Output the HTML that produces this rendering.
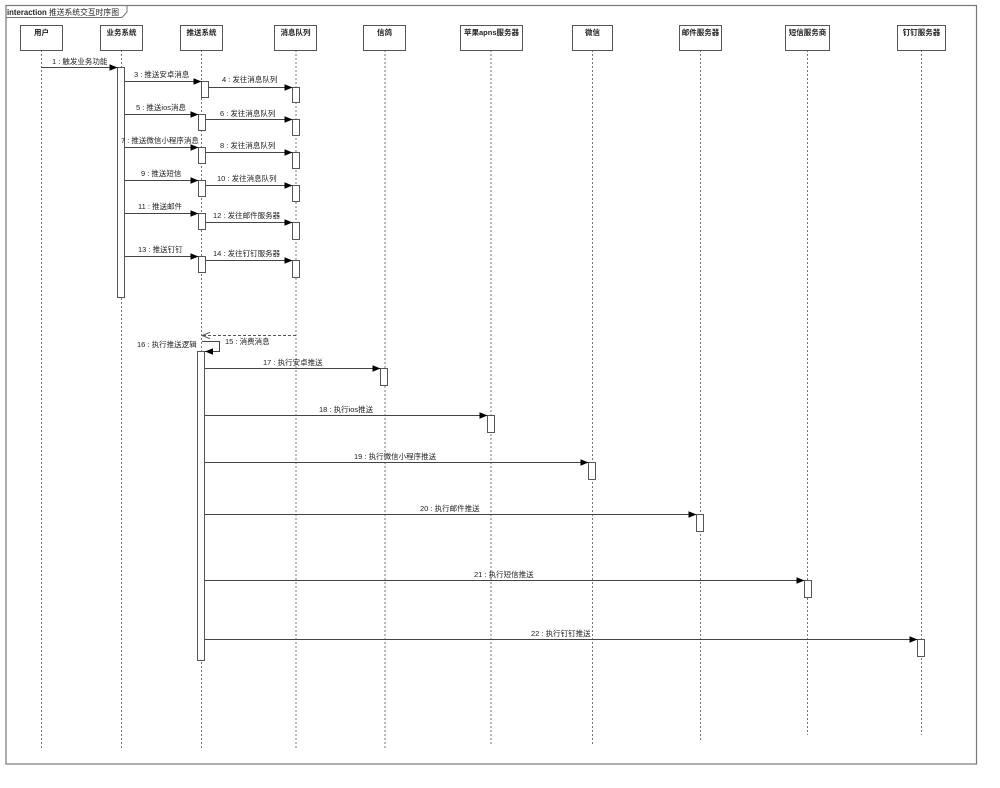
<!DOCTYPE html>
<html><head><meta charset="utf-8"><style>
html,body{margin:0;padding:0;background:#fff;}
svg{display:block;font-family:"Liberation Sans","Noto Sans CJK SC",sans-serif;}
</style></head><body>
<svg width="1000" height="788" viewBox="0 0 1000 788" xmlns="http://www.w3.org/2000/svg">
<defs>
<marker id="a" viewBox="0 0 10 10" refX="10" refY="5" markerWidth="8" markerHeight="8" orient="auto" markerUnits="userSpaceOnUse"><path d="M0,1 L10,5 L0,9 z" fill="#000"/></marker>
<marker id="o" viewBox="0 0 10 10" refX="10" refY="5" markerWidth="8" markerHeight="8" orient="auto" markerUnits="userSpaceOnUse"><path d="M0,1 L10,5 L0,9" fill="none" stroke="#555" stroke-width="1.2"/></marker>
</defs>
<rect x="6" y="5.5" width="970.5" height="758.5" fill="none" stroke="#777" stroke-width="1.2"/>
<path d="M6 17.5 H122 L127 12 V5.5" fill="none" stroke="#777" stroke-width="1"/>
<text x="7" y="15" font-size="8" font-weight="bold" fill="#222" textLength="112" lengthAdjust="spacingAndGlyphs">interaction <tspan font-weight="normal">推送系统交互时序图</tspan></text>

<g stroke="#777" stroke-width="1" stroke-dasharray="2,2" fill="none">
<line x1="41.5" y1="50" x2="41.5" y2="749"/>
<line x1="121.5" y1="50" x2="121.5" y2="749"/>
<line x1="201.5" y1="50" x2="201.5" y2="749"/>
<line x1="296" y1="50" x2="296" y2="749"/>
<line x1="385" y1="50" x2="385" y2="749"/>
<line x1="491" y1="50" x2="491" y2="745"/>
<line x1="592.5" y1="50" x2="592.5" y2="745"/>
<line x1="700.5" y1="50" x2="700.5" y2="740"/>
<line x1="807.5" y1="50" x2="807.5" y2="735"/>
<line x1="921.5" y1="50" x2="921.5" y2="735"/>
</g>

<g fill="#fff" stroke="#555" stroke-width="1">
<rect x="20.5" y="25.5" width="42" height="25"/>
<rect x="100.5" y="25.5" width="42" height="25"/>
<rect x="180.5" y="25.5" width="42" height="25"/>
<rect x="274.5" y="25.5" width="42" height="25"/>
<rect x="363.5" y="25.5" width="42" height="25"/>
<rect x="460.5" y="25.5" width="62" height="25"/>
<rect x="572.5" y="25.5" width="40" height="25"/>
<rect x="679.5" y="25.5" width="42" height="25"/>
<rect x="785.5" y="25.5" width="44" height="25"/>
<rect x="897.5" y="25.5" width="48" height="25"/>
</g>
<g font-size="7.5" font-weight="bold" text-anchor="middle" fill="#222">
<text x="41.5" y="35">用户</text>
<text x="121.5" y="35">业务系统</text>
<text x="201.5" y="35">推送系统</text>
<text x="295.5" y="35">消息队列</text>
<text x="384.5" y="35">信鸽</text>
<text x="491.5" y="35">苹果apns服务器</text>
<text x="592.5" y="35">微信</text>
<text x="700.5" y="35">邮件服务器</text>
<text x="807.5" y="35">短信服务商</text>
<text x="921.5" y="35">钉钉服务器</text>
</g>

<g fill="#fff" stroke="#555" stroke-width="1">
<rect x="117.5" y="67.5" width="7" height="230"/>
<rect x="201.5" y="81.5" width="7" height="16"/>
<rect x="292.5" y="87.5" width="7" height="15"/>
<rect x="198.5" y="114.5" width="7" height="16"/>
<rect x="292.5" y="119.5" width="7" height="16"/>
<rect x="198.5" y="147.5" width="7" height="16"/>
<rect x="292.5" y="152.5" width="7" height="16"/>
<rect x="198.5" y="180.5" width="7" height="16"/>
<rect x="292.5" y="185.5" width="7" height="16"/>
<rect x="198.5" y="213.5" width="7" height="16"/>
<rect x="292.5" y="222.5" width="7" height="17"/>
<rect x="198.5" y="256.5" width="7" height="16"/>
<rect x="292.5" y="260.5" width="7" height="17"/>
<rect x="197.5" y="351.5" width="7" height="309"/>
<rect x="380.5" y="368.5" width="7" height="17"/>
<rect x="487.5" y="415.5" width="7" height="17"/>
<rect x="588.5" y="462.5" width="7" height="17"/>
<rect x="696.5" y="514.5" width="7" height="17"/>
<rect x="804.5" y="580.5" width="7" height="17"/>
<rect x="917.5" y="639.5" width="7" height="17"/>
</g>

<g stroke="#444" stroke-width="1" fill="none" marker-end="url(#a)">
<line x1="41.5" y1="67.5" x2="117.5" y2="67.5"/>
<line x1="124.5" y1="81.5" x2="201.5" y2="81.5"/>
<line x1="208.5" y1="87.5" x2="292.5" y2="87.5"/>
<line x1="124.5" y1="114.5" x2="198.5" y2="114.5"/>
<line x1="205.5" y1="119.5" x2="292.5" y2="119.5"/>
<line x1="124.5" y1="147.5" x2="198.5" y2="147.5"/>
<line x1="205.5" y1="152.5" x2="292.5" y2="152.5"/>
<line x1="124.5" y1="180.5" x2="198.5" y2="180.5"/>
<line x1="205.5" y1="185.5" x2="292.5" y2="185.5"/>
<line x1="124.5" y1="213.5" x2="198.5" y2="213.5"/>
<line x1="205.5" y1="222.5" x2="292.5" y2="222.5"/>
<line x1="124.5" y1="256.5" x2="198.5" y2="256.5"/>
<line x1="205.5" y1="260.5" x2="292.5" y2="260.5"/>
<path d="M202 341.5 H219.5 V351.5 H205"/>
<line x1="204.5" y1="368.5" x2="380.5" y2="368.5"/>
<line x1="204.5" y1="415.5" x2="487.5" y2="415.5"/>
<line x1="204.5" y1="462.5" x2="588.5" y2="462.5"/>
<line x1="204.5" y1="514.5" x2="696.5" y2="514.5"/>
<line x1="204.5" y1="580.5" x2="804.5" y2="580.5"/>
<line x1="204.5" y1="639.5" x2="917.5" y2="639.5"/>
</g>
<line x1="296" y1="335.5" x2="202" y2="335.5" stroke="#555" stroke-width="1" stroke-dasharray="3,2" marker-end="url(#o)"/>

<g font-size="7.5" fill="#222">
<text x="52" y="64">1 : 触发业务功能</text>
<text x="134" y="77">3 : 推送安卓消息</text>
<text x="222" y="82">4 : 发往消息队列</text>
<text x="136" y="110">5 : 推送ios消息</text>
<text x="220" y="116">6 : 发往消息队列</text>
<text x="121" y="143">7 : 推送微信小程序消息</text>
<text x="220" y="148">8 : 发往消息队列</text>
<text x="141" y="176">9 : 推送短信</text>
<text x="217" y="181">10 : 发往消息队列</text>
<text x="138" y="209">11 : 推送邮件</text>
<text x="213" y="218">12 : 发往邮件服务器</text>
<text x="138" y="252">13 : 推送钉钉</text>
<text x="213" y="256">14 : 发往钉钉服务器</text>
<text x="225" y="344">15 : 消费消息</text>
<text x="137" y="347">16 : 执行推送逻辑</text>
<text x="263" y="365">17 : 执行安卓推送</text>
<text x="319" y="412">18 : 执行ios推送</text>
<text x="354" y="459">19 : 执行微信小程序推送</text>
<text x="420" y="511">20 : 执行邮件推送</text>
<text x="474" y="577">21 : 执行短信推送</text>
<text x="531" y="636">22 : 执行钉钉推送</text>
</g>
</svg>
</body></html>
